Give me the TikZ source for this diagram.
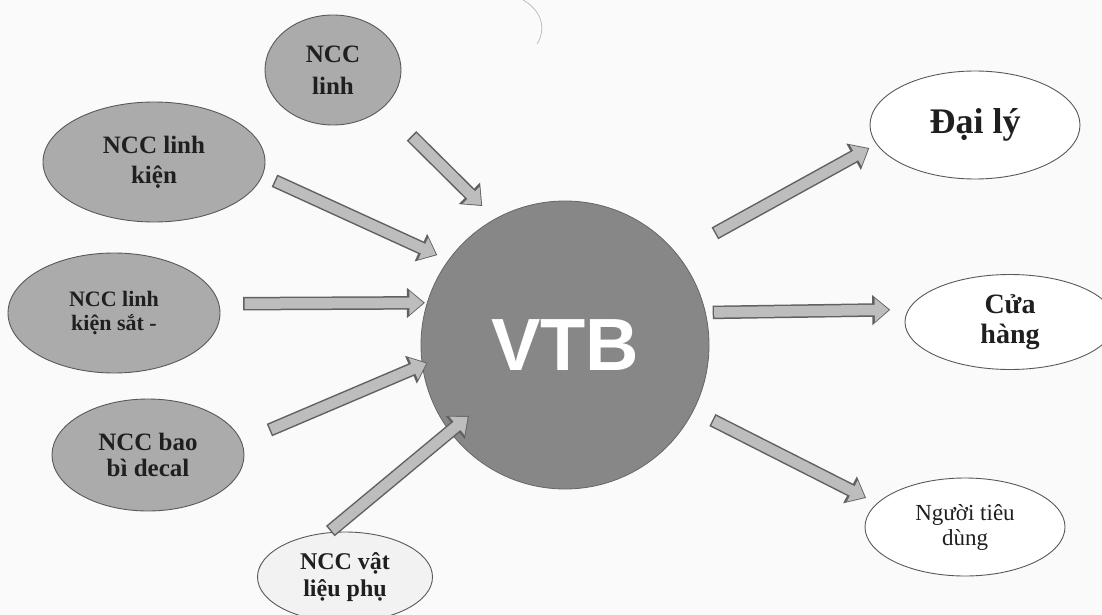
\documentclass[tikz,border=0pt]{standalone}
\usepackage{fontspec}
\setmainfont{Liberation Serif}
\setsansfont{Liberation Sans}
\usetikzlibrary{shapes.geometric,arrows.meta}

\begin{document}
\begin{tikzpicture}[x=1pt, y=-1pt,
		supplier_style/.style={ellipse,draw=black!65,line width=0.9pt,fill=black!33,inner sep=0pt,align=center,text=black!88},
		client_style/.style={ellipse,draw=black!65,line width=0.9pt,fill=white,inner sep=0pt,align=center,text=black!88},
		center_style/.style={circle,draw=black!60,line width=0.8pt,fill=black!47,inner sep=0pt,text=white,font=\sffamily\bfseries\fontsize{74}{74}\selectfont},
		flow_style/.style 2 args={draw=black!26,line width=10.5pt,-{Triangle[length=14pt,width=23pt]},
			shorten <=#1+1.5pt, shorten >=#2+1.5pt,
			preaction={draw=black!62,line width=13.5pt,-{Triangle[length=18pt,width=29pt]},shorten <=#1,shorten >=#2}}]
		
		\useasboundingbox[fill=black!2] (0,0) rectangle (1102,615);
		
		% nha cung cap
		\node[supplier_style, minimum width=136pt, minimum height=110pt, font=\bfseries\fontsize{25}{32}\selectfont] (top) at (333,70) {NCC\\linh};
		\node[supplier_style, minimum width=222pt, minimum height=120pt, font=\bfseries\fontsize{25}{30}\selectfont] (lk) at (154,162) {NCC linh\\kiện};
		\node[supplier_style, minimum width=212pt, minimum height=120pt, font=\bfseries\fontsize{22}{24}\selectfont] (lks) at (114,313) {NCC linh\\kiện sắt -};
		\node[supplier_style, minimum width=192pt, minimum height=112pt, font=\bfseries\fontsize{25}{26}\selectfont] (decal) at (148,455) {NCC bao\\bì decal};
		\node[client_style, fill=black!5, minimum width=175pt, minimum height=90pt, font=\bfseries\fontsize{24}{27}\selectfont] (vl) at (345,577) {NCC vật\\liệu phụ};
		
		% trung tam
		\node[center_style, minimum size=288pt] (vtb) at (565,345) {VTB};
		
		% khach hang
		\node[client_style, minimum width=210pt, minimum height=108pt, font=\bfseries\fontsize{36}{40}\selectfont] (daily) at (975,125) {Đại lý};
		\node[client_style, minimum width=210pt, minimum height=95pt, font=\bfseries\fontsize{28}{30}\selectfont] (shop) at (1010,322) {Cửa\\hàng};
		\node[client_style, minimum width=200pt, minimum height=98pt, font=\fontsize{23}{25}\selectfont] (user) at (965,527) {Người tiêu\\dùng};
		
		\draw[flow_style={40pt}{18pt}] (top.-37) -- (vtb.119);
		\draw[flow_style={13pt}{12pt}] (lk.-7) -- (vtb.144);
		\draw[flow_style={24pt}{2pt}] (lks.5) -- (vtb.163);
		\draw[flow_style={30pt}{-6pt}] (decal.8) -- (vtb.188);
		\draw[flow_style={2pt}{-25pt}] (vl.110) -- (vtb.217);
		\draw[flow_style={43pt}{8pt}] (vtb.39) -- (daily.191);
		\draw[flow_style={7pt}{18pt}] (vtb.13) -- (shop.173);
		\draw[flow_style={21pt}{12pt}] (vtb.-27) -- (user.165);
		
		\draw[black!28, line width=0.7pt] (523,0) .. controls (541,10) and (547,28) .. (537,44);
		
\end{tikzpicture}
\end{document}
